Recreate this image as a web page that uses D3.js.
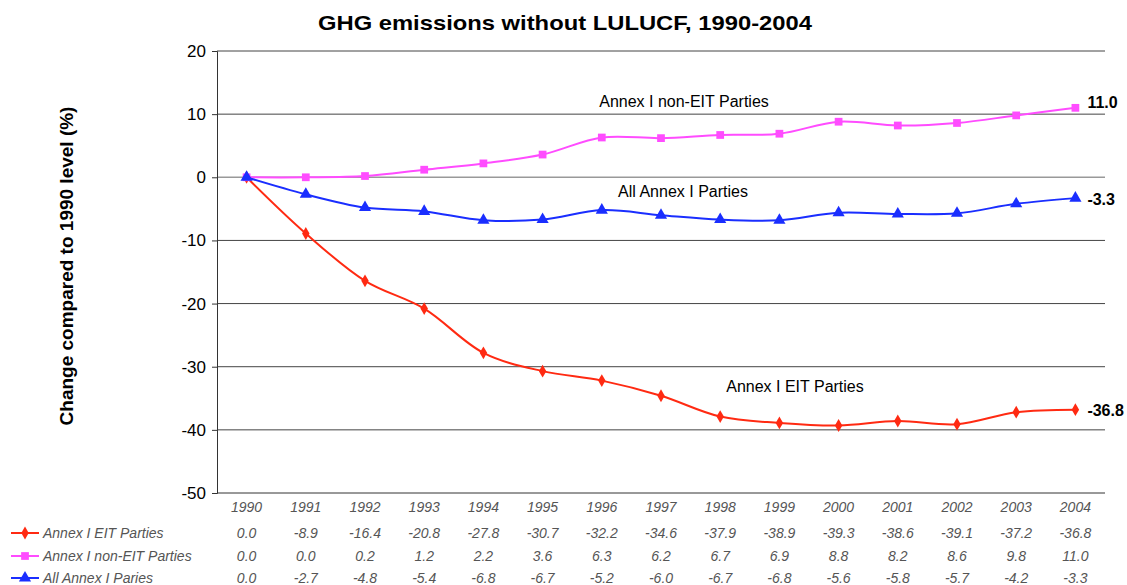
<!DOCTYPE html>
<html lang="en">
<head>
  <meta charset="utf-8">
  <title>GHG emissions without LULUCF</title>
  <script src="https://d3js.org/d3.v7.min.js"></script>
  <style>
    body { margin: 0; background: #fff; }
    text { font-family: "Liberation Sans", Arial, sans-serif; }
  </style>
</head>
<body>
  <script>
    var years = ['1990','1991','1992','1993','1994','1995','1996','1997','1998','1999','2000','2001','2002','2003','2004'];
    var eit = [0.0, -8.9, -16.4, -20.8, -27.8, -30.7, -32.2, -34.6, -37.9, -38.9, -39.3, -38.6, -39.1, -37.2, -36.8];
    var nonEit = [0.0, 0.0, 0.2, 1.2, 2.2, 3.6, 6.3, 6.2, 6.7, 6.9, 8.8, 8.2, 8.6, 9.8, 11.0];
    var allAnnex = [0.0, -2.7, -4.8, -5.4, -6.8, -6.7, -5.2, -6.0, -6.7, -6.8, -5.6, -5.8, -5.7, -4.2, -3.3];
    var yTicks = [20, 10, 0, -10, -20, -30, -40, -50];

    var series = [
      { legend: 'Annex I EIT Parties', values: eit, color: '#ff2a12', symbol: d3.symbolDiamond, size: 48,
        label: 'Annex I EIT Parties', lx: 795, ly: 392, end: '-36.8', endDy: 6 },
      { legend: 'Annex I non-EIT Parties', values: nonEit, color: '#ff4cff', symbol: d3.symbolSquare, size: 60,
        label: 'Annex I non-EIT Parties', lx: 684, ly: 107, end: '11.0', endDy: 0 },
      { legend: 'All Annex I Paries', values: allAnnex, color: '#1a2eff', symbol: d3.symbolTriangle, size: 64,
        label: 'All Annex I Parties', lx: 683, ly: 197, end: '-3.3', endDy: 7 }
    ];

    var W = 1127, H = 585;
    var plotL = 217, plotR = 1105, plotT = 51, plotB = 493;

    // hyphen instead of unicode minus, like the original
    function fmt1(d) { return d3.format('.1f')(d).replace('\u2212', '-'); }
    function fmt0(d) { return d3.format('d')(d).replace('\u2212', '-'); }

    var svg = d3.select('body').append('svg')
      .attr('width', W)
      .attr('height', H);

    var x = d3.scaleBand().domain(years).range([plotL, plotR]);
    var y = d3.scaleLinear().domain([-50, 20]).range([plotB, plotT]);
    function cx(i) { return x(years[i]) + x.bandwidth() / 2; }

    // title
    svg.append('text')
      .attr('x', 565).attr('y', 30)
      .attr('text-anchor', 'middle')
      .attr('textLength', 494).attr('lengthAdjust', 'spacingAndGlyphs')
      .style('font-size', '21px').style('font-weight', 'bold')
      .text('GHG emissions without LULUCF, 1990-2004');

    // grid lines
    svg.append('g').selectAll('line')
      .data(yTicks.filter(function(d) { return d > -50; }))
      .enter().append('line')
      .attr('x1', plotL).attr('x2', plotR)
      .attr('y1', function(d) { return y(d); })
      .attr('y2', function(d) { return y(d); })
      .attr('stroke', function(d) { return d === 0 ? '#999' : '#444'; })
      .attr('stroke-width', function(d) { return d === 0 ? 1.5 : 1; });

    // y axis
    var yAxis = svg.append('g')
      .attr('transform', 'translate(' + plotL + ',0)')
      .call(d3.axisLeft(y).tickValues(yTicks).tickSize(5).tickPadding(6).tickFormat(fmt0));
    yAxis.selectAll('text').style('font-size', '17px').attr('fill', '#000')
      .style('font-family', '"Liberation Sans", Arial, sans-serif');
    yAxis.selectAll('line, path').attr('stroke', '#333');

    // bottom axis line
    svg.append('line')
      .attr('x1', plotL).attr('x2', plotR)
      .attr('y1', plotB).attr('y2', plotB)
      .attr('stroke', '#333');

    svg.append('text')
      .attr('transform', 'translate(73,266) rotate(-90)')
      .attr('text-anchor', 'middle')
      .style('font-size', '19px').style('font-weight', 'bold')
      .text('Change compared to 1990 level (%)');

    // lines
    var line = d3.line()
      .x(function(d, i) { return cx(i); })
      .y(function(d) { return y(d); })
      .curve(d3.curveCatmullRom.alpha(0.5));

    series.forEach(function(s) {
      svg.append('path')
        .datum(s.values)
        .attr('d', line)
        .attr('fill', 'none')
        .attr('stroke', s.color)
        .attr('stroke-width', 2);
      svg.append('g').selectAll('path')
        .data(s.values)
        .enter().append('path')
        .attr('transform', function(d, i) { return 'translate(' + cx(i) + ',' + y(d) + ')'; })
        .attr('d', d3.symbol().type(s.symbol).size(s.size))
        .attr('fill', s.color);
      svg.append('text')
        .attr('x', s.lx).attr('y', s.ly)
        .attr('text-anchor', 'middle')
        .style('font-size', '16px')
        .text(s.label);
      svg.append('text')
        .attr('x', cx(years.length - 1) + 12)
        .attr('y', y(s.values[s.values.length - 1]) + s.endDy)
        .style('font-size', '16px').style('font-weight', 'bold')
        .text(s.end);
    });

    // data table
    var tableColor = '#555';
    svg.append('g').selectAll('text')
      .data(years)
      .enter().append('text')
      .attr('x', function(d, i) { return cx(i); })
      .attr('y', 512)
      .attr('text-anchor', 'middle')
      .style('font-size', '14px').style('font-style', 'italic')
      .attr('fill', tableColor)
      .text(function(d) { return d; });

    var rowY = [538, 561, 583];
    series.forEach(function(s, r) {
      var g = svg.append('g');
      g.append('line')
        .attr('x1', 11).attr('x2', 39)
        .attr('y1', rowY[r] - 5).attr('y2', rowY[r] - 5)
        .attr('stroke', s.color).attr('stroke-width', 2);
      g.append('path')
        .attr('transform', 'translate(25,' + (rowY[r] - 5) + ')')
        .attr('d', d3.symbol().type(s.symbol).size(s.size))
        .attr('fill', s.color);
      g.append('text')
        .attr('x', 43).attr('y', rowY[r])
        .style('font-size', '14px').style('font-style', 'italic')
        .attr('fill', tableColor)
        .text(s.legend);
      g.selectAll('text.val')
        .data(s.values)
        .enter().append('text')
        .attr('class', 'val')
        .attr('x', function(d, i) { return cx(i); })
        .attr('y', rowY[r])
        .attr('text-anchor', 'middle')
        .style('font-size', '14px').style('font-style', 'italic')
        .attr('fill', tableColor)
        .text(fmt1);
    });
  </script>
</body>
</html>
